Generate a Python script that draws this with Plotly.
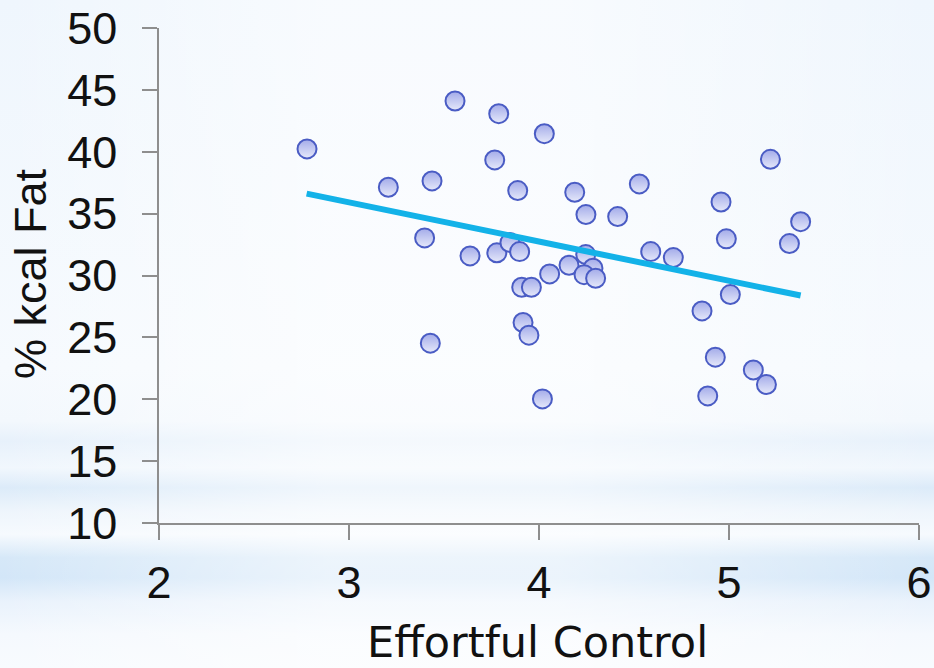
import plotly.graph_objects as go
import urllib.parse

# Data
effortful_control = [2.779, 3.207, 3.437, 3.558, 3.398, 3.428, 3.637, 3.788, 3.767, 3.778,
                     3.888, 3.847, 3.898, 3.909, 3.960, 3.916, 3.947, 4.028, 4.018, 4.056,
                     4.158, 4.188, 4.246, 4.247, 4.284, 4.237, 4.298, 4.414, 4.528, 4.588,
                     4.707, 4.858, 4.888, 4.928, 4.958, 4.986, 5.007, 5.128, 5.197, 5.218,
                     5.318, 5.377]
kcal_fat = [40.23, 37.13, 37.64, 44.10, 33.04, 24.53, 31.58, 43.08, 39.34, 31.83,
            36.86, 32.66, 31.93, 29.05, 29.05, 26.20, 25.18, 41.46, 20.03, 30.13,
            30.83, 36.73, 31.69, 34.92, 30.59, 30.07, 29.78, 34.76, 37.40, 31.93,
            31.45, 27.14, 20.27, 23.40, 35.94, 32.96, 28.46, 22.37, 21.19, 39.39,
            32.58, 34.35]
trend_x = [2.777, 5.377]
trend_y = [36.62, 28.38]
x_ticks = [2, 3, 4, 5, 6]
y_ticks = [10, 15, 20, 25, 30, 35, 40, 45, 50]
x_title = "Effortful Control"
y_title = "% kcal Fat"

# Slide-like background (soft blue horizontal streaks)
svg = """<svg xmlns='http://www.w3.org/2000/svg' width='934' height='668' viewBox='0 0 934 668' preserveAspectRatio='none'>
<defs>
<linearGradient id='g' x1='0' y1='0' x2='0' y2='1'>
<stop offset='0' stop-color='#eff6fd'/>
<stop offset='0.55' stop-color='#f6fafe'/>
<stop offset='0.63' stop-color='#f3f8fd'/>
<stop offset='0.66' stop-color='#e7f1fb'/>
<stop offset='0.70' stop-color='#f1f7fd'/>
<stop offset='0.73' stop-color='#dcebf9'/>
<stop offset='0.765' stop-color='#eef5fc'/>
<stop offset='0.80' stop-color='#f6fafe'/>
<stop offset='0.835' stop-color='#d6e8f8'/>
<stop offset='0.865' stop-color='#d3e6f8'/>
<stop offset='0.90' stop-color='#e9f2fc'/>
<stop offset='0.95' stop-color='#f5f9fe'/>
<stop offset='1' stop-color='#f8fbfe'/>
</linearGradient>
<linearGradient id='h' x1='0' y1='0' x2='1' y2='0'>
<stop offset='0' stop-color='#ffffff' stop-opacity='0'/>
<stop offset='0.35' stop-color='#ffffff' stop-opacity='0.55'/>
<stop offset='0.6' stop-color='#ffffff' stop-opacity='0.55'/>
<stop offset='1' stop-color='#ffffff' stop-opacity='0'/>
</linearGradient>
</defs>
<rect width='934' height='668' fill='url(#g)'/>
<rect width='934' height='668' fill='url(#h)'/>
</svg>"""
bg_src = "data:image/svg+xml;charset=utf-8," + urllib.parse.quote(svg)

FONT = "Liberation Sans, Arial, sans-serif"
XT_FONT = "DejaVu Sans, Liberation Sans, sans-serif"
L, R, T, B = 159, 15, 28, 145
PW, PH = 934 - L - R, 668 - T - B

fig = go.Figure()
fig.add_trace(go.Scatter(
    x=effortful_control, y=kcal_fat, mode="markers",
    marker=dict(size=19, color="#a3abe9",
                gradient=dict(type="vertical", color="#e6e9fa"),
                line=dict(color="#4a5cc4", width=2)),
    showlegend=False, hoverinfo="x+y"))
fig.add_trace(go.Scatter(
    x=trend_x, y=trend_y, mode="lines",
    line=dict(color="#13b2e8", width=6),
    showlegend=False, hoverinfo="skip"))

axis_common = dict(
    showgrid=False, zeroline=False, showline=True, linecolor="#8e8e8e", linewidth=1.5,
    ticks="outside", ticklen=15, tickwidth=1.5, tickcolor="#8e8e8e", automargin=False,
    tickfont=dict(family=FONT, size=45, color="#111111"),
)

fig.update_layout(
    width=934, height=668,
    margin=dict(l=L, r=R, t=T, b=B),
    paper_bgcolor="#f4f8fd", plot_bgcolor="rgba(0,0,0,0)",
    images=[dict(source=bg_src, xref="paper", yref="paper", x=-L / PW, y=1 + T / PH,
                 sizex=934 / PW, sizey=668 / PH, sizing="stretch", layer="below",
                 xanchor="left", yanchor="top")],
    xaxis=dict(range=[2, 6], tickvals=x_ticks, ticklabelstandoff=4, **axis_common),
    yaxis=dict(range=[10, 50], tickvals=y_ticks, ticklabelstandoff=16, **axis_common),
    annotations=[
        dict(text=x_title, xref="paper", yref="paper", x=(537 - L) / PW, y=(523 - 642) / PH,
             xanchor="center", yanchor="middle", showarrow=False,
             font=dict(family=XT_FONT, size=43, color="#111111")),
        dict(text=y_title, xref="paper", yref="paper", x=(30 - L) / PW, y=(523 - 274) / PH,
             xanchor="center", yanchor="middle", showarrow=False, textangle=-90,
             font=dict(family=FONT, size=45, color="#111111")),
    ],
)

fig.write_html("out.html", config={"displayModeBar": False},
               post_script="document.body.style.margin='0';document.body.style.overflow='hidden';")
